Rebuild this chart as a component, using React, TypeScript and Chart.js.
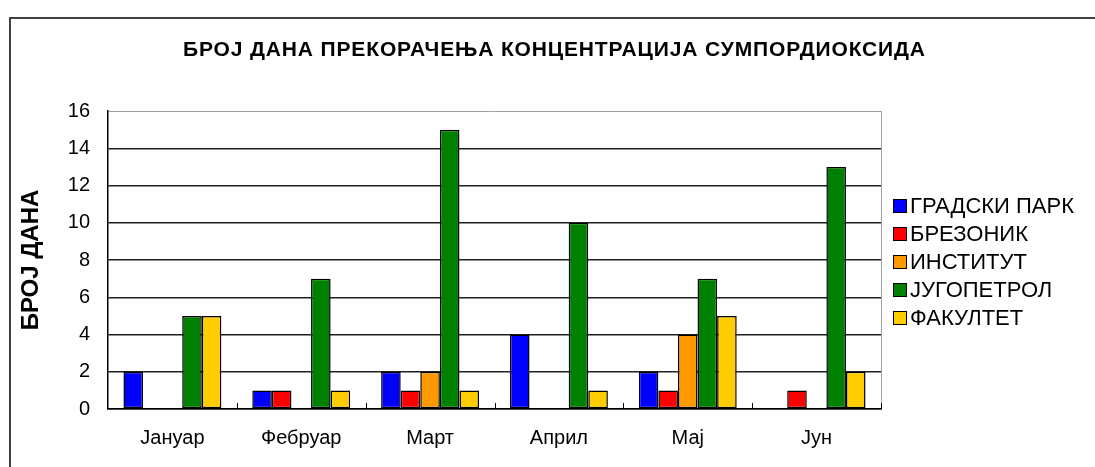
import React, { useEffect, useRef } from "react";
import { Chart, registerables } from "chart.js";

Chart.register(...registerables);

const months = ["Јануар", "Фебруар", "Март", "Април", "Мај", "Јун"];
const gradskiPark = [2, 1, 2, 4, 2, 0];
const brezonik = [0, 1, 1, 0, 1, 1];
const institut = [0, 0, 2, 0, 4, 0];
const jugopetrol = [5, 7, 15, 10, 7, 13];
const fakultet = [5, 1, 1, 1, 5, 2];
const seriesNames = ["ГРАДСКИ ПАРК", "БРЕЗОНИК", "ИНСТИТУТ", "ЈУГОПЕТРОЛ", "ФАКУЛТЕТ"];
const seriesValues = [gradskiPark, brezonik, institut, jugopetrol, fakultet];
const seriesColors = ["#0000FF", "#FF0000", "#FF9900", "#008000", "#FFCC00"];
const yMin = 0;
const yMax = 16;
const yStep = 2;
const chartTitle = "БРОЈ ДАНА ПРЕКОРАЧЕЊА КОНЦЕНТРАЦИЈА СУМПОРДИОКСИДА";
const yAxisTitle = "БРОЈ ДАНА";

const FONT = '"Liberation Sans", Arial, sans-serif';
const W = 1095;
const H = 467;

const decorPlugin = {
  id: "decor",
  beforeDraw(chart: any) {
    const ctx = chart.ctx;
    ctx.save();
    ctx.fillStyle = "#ffffff";
    ctx.fillRect(0, 0, W, H);
    // outer frame
    ctx.fillStyle = "#404040";
    ctx.fillRect(9, 17, W - 9, 2);
    ctx.fillRect(9, 17, 2, H - 17);
    ctx.restore();
  },
  afterDraw(chart: any) {
    const ctx = chart.ctx;
    const area = chart.chartArea;
    const xs = chart.scales.x;
    ctx.save();

    // right plot border (gray)
    ctx.strokeStyle = "#a0a0a0";
    ctx.lineWidth = 1;
    ctx.beginPath();
    ctx.moveTo(Math.round(area.right) + 0.5, area.top);
    ctx.lineTo(Math.round(area.right) + 0.5, area.bottom);
    ctx.stroke();

    // category separator ticks pointing inward
    const half = (xs.getPixelForValue(1) - xs.getPixelForValue(0)) / 2;
    ctx.strokeStyle = "#000000";
    ctx.lineWidth = 1;
    for (let i = 0; i < months.length; i++) {
      const x = Math.round(xs.getPixelForValue(i) + half) + 0.5;
      ctx.beginPath();
      ctx.moveTo(x, area.bottom);
      ctx.lineTo(x, area.bottom - 6);
      ctx.stroke();
    }

    // title
    ctx.fillStyle = "#000000";
    ctx.font = `bold 21px ${FONT}`;
    ctx.textBaseline = "alphabetic";
    ctx.textAlign = "left";
    const w = ctx.measureText(chartTitle).width;
    const ls = (742 - w) / (chartTitle.length - 1);
    (ctx as any).letterSpacing = `${ls}px`;
    ctx.fillText(chartTitle, 183, 56);
    (ctx as any).letterSpacing = "0px";

    // legend
    const ds = chart.data.datasets;
    ctx.font = `22px ${FONT}`;
    ctx.textBaseline = "middle";
    for (let i = 0; i < ds.length; i++) {
      const top = 199 + 28 * i;
      ctx.fillStyle = ds[i].backgroundColor;
      ctx.fillRect(893, top, 14, 14);
      ctx.strokeStyle = "#000000";
      ctx.lineWidth = 1;
      ctx.strokeRect(893.5, top + 0.5, 13, 13);
      ctx.fillStyle = "#000000";
      ctx.fillText(ds[i].label, 910, top + 7.5);
    }
    ctx.restore();
  },
};

export default function App() {
  const ref = useRef<HTMLCanvasElement | null>(null);

  useEffect(() => {
    if (!ref.current) return;
    const chart = new Chart(ref.current, {
      type: "bar",
      data: {
        labels: months,
        datasets: seriesNames.map((name, i) => ({
          label: name,
          data: seriesValues[i],
          backgroundColor: seriesColors[i],
          borderColor: "#000000",
          borderWidth: 1.5,
          borderSkipped: false,
          categoryPercentage: 0.76,
          barPercentage: 1.0,
        })),
      },
      options: {
        responsive: false,
        animation: false,
        devicePixelRatio: 1,
        layout: { padding: { top: 111, right: W - 881, bottom: 0, left: 0 } },
        plugins: {
          legend: { display: false },
          title: { display: false },
          tooltip: { enabled: false },
        },
        scales: {
          x: {
            offset: true,
            grid: { display: false, drawTicks: false },
            border: { display: true, color: "#000000", width: 1.5 },
            ticks: {
              color: "#000000",
              padding: 17,
              font: { family: FONT, size: 20 },
              maxRotation: 0,
            },
            afterFit(scale: any) {
              scale.height = H - 409;
            },
          },
          y: {
            min: yMin,
            max: yMax,
            grid: {
              drawTicks: false,
              color: (c: any) => (c.tick && c.tick.value === yMax ? "#a0a0a0" : "#202020"),
              lineWidth: (c: any) => (c.tick && c.tick.value === yMax ? 1 : 1.5),
            },
            border: { display: true, color: "#000000", width: 1.5 },
            ticks: {
              stepSize: yStep,
              color: "#000000",
              padding: 18,
              font: { family: FONT, size: 20 },
            },
            title: {
              display: true,
              text: yAxisTitle,
              color: "#000000",
              font: { family: FONT, size: 24, weight: "bold" },
              padding: { top: 17, bottom: 0 },
            },
            afterFit(scale: any) {
              scale.width = 108;
            },
          },
        },
      },
      plugins: [decorPlugin],
    });
    return () => chart.destroy();
  }, []);

  return (
    <div style={{ position: "fixed", left: 0, top: 0, width: W, height: H, background: "#fff" }}>
      <canvas ref={ref} width={W} height={H} style={{ display: "block" }} />
    </div>
  );
}
